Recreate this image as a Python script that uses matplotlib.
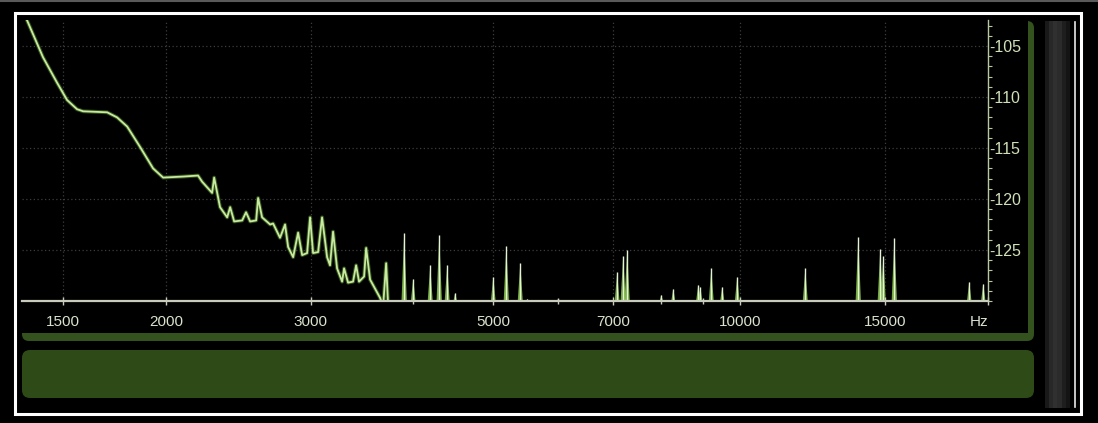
import matplotlib.pyplot as plt
import numpy as np
from matplotlib.patches import FancyBboxPatch, Rectangle
from matplotlib.ticker import MultipleLocator

# spectrum trace (Hz, dB)
CURVE_HZ = [1348, 1418, 1475, 1517, 1560, 1587, 1697, 1745, 1795, 1861,
            1930, 1985, 2099, 2189, 2214, 2277, 2290, 2328, 2375, 2395,
            2422, 2477, 2504, 2533, 2576, 2590, 2619, 2679, 2701, 2754,
            2793, 2817, 2857, 2897, 2930, 2971, 2996, 3021, 3064, 3098,
            3142, 3168, 3195, 3231, 3277, 3295, 3332, 3379, 3408, 3436,
            3485, 3505, 3544, 3645, 3676, 3707, 3728]
CURVE_DB = [-102.0, -106.1, -108.6, -110.3, -111.2, -111.4, -111.5, -112.0, -112.9, -114.9,
            -117.0, -117.9, -117.8, -117.7, -118.3, -119.4, -117.9, -120.8, -121.8, -120.8,
            -122.2, -122.1, -121.3, -122.2, -122.1, -119.9, -121.8, -122.5, -122.4, -123.8,
            -122.5, -124.7, -125.7, -123.3, -125.5, -125.3, -121.8, -125.3, -125.2, -121.8,
            -125.7, -126.5, -123.2, -126.8, -128.1, -126.8, -128.2, -128.1, -126.5, -128.1,
            -127.6, -124.8, -127.9, -129.7, -130.5, -126.3, -130.5]

# isolated peaks above the floor
SPIKE_HZ = [3899, 3999, 4194, 4301, 4398, 4498, 5004, 5190, 5397, 5504,
            6001, 6189, 7079, 7199, 7280, 8010, 8284, 8885, 8935, 9214,
            9502, 9799, 9909, 11990, 13907, 14791, 14916, 15384, 18976, 19737]
SPIKE_DB = [-123.3, -127.8, -126.5, -123.5, -126.5, -129.2, -127.6, -124.6, -126.3, -129.8,
            -129.8, -129.9, -127.2, -125.6, -125.0, -129.4, -128.8, -128.4, -128.6, -126.8,
            -128.6, -129.9, -127.6, -126.8, -123.7, -124.9, -125.6, -123.8, -128.1, -128.3]

X_TICKS = [1500, 2000, 3000, 5000, 7000, 10000, 15000, 20000]
X_TICK_LABELS = ["1500", "2000", "3000", "5000", "7000", "10000", "15000", "Hz"]
X_MINOR = [4000, 6000, 8000, 9000]
Y_TICKS = [-125, -120, -115, -110, -105]
Y_TICK_LABELS = ["-125", "-120", "-115", "-110", "-105"]

W, H = 1098, 423
FONT = ["Liberation Sans Narrow", "Liberation Sans", "DejaVu Sans"]
LINE_COL = "#c8eaa0"
GLOW_COL = "#6fae3a"
AXIS_COL = "#c8ccbc"
LABEL_COL = "#d8e2cc"

fig = plt.figure(figsize=(W / 100, H / 100), dpi=100, facecolor="black")

# background panels drawn in pixel coordinates
bg = fig.add_axes([0, 0, 1, 1])
bg.plot([0, W], [1, 1], color="#5a5a5a", lw=1.5)
bg.add_patch(Rectangle((15, 13), 1066, 401, fill=False, ec="white", lw=2.2))
bg.plot([1075, 1075], [22, 407], color="#e8e8e8", lw=1.2)
bg.imshow(np.array([[0.10, 0.16, 0.19, 0.17, 0.12, 0.08]]), cmap="gray", vmin=0, vmax=1,
          extent=(1045, 1070, 408, 21), aspect="auto")
bg.add_patch(FancyBboxPatch((22, 21), 1012, 320, boxstyle="round,pad=0,rounding_size=7",
                            fc="#34521d", ec="none"))
bg.add_patch(Rectangle((22, 21), 1006, 312, fc="black", ec="none"))
bg.add_patch(FancyBboxPatch((22, 350), 1012, 48, boxstyle="round,pad=0,rounding_size=8",
                            fc="#2e4b17", ec="none"))
bg.set_xlim(0, W)
bg.set_ylim(H, 0)
bg.axis("off")

ax = fig.add_axes([22 / W, 1 - 301 / H, 966 / W, 281 / H])
ax.set_facecolor("none")
ax.set_xscale("log")
ax.set_xlim(1337, 20000)
ax.set_ylim(-130, -102.45)

ax.plot(CURVE_HZ, CURVE_DB, color=GLOW_COL, lw=2.8, alpha=0.45, solid_joinstyle="round")
ax.plot(CURVE_HZ, CURVE_DB, color=LINE_COL, lw=1.3, solid_joinstyle="round")

k = 10 ** 0.0035  # spike half-width in log space
for f, db in zip(SPIKE_HZ, SPIKE_DB):
    ax.fill([f / k, f, f * k], [-130.5, db, -130.5], color="#8cc850", alpha=0.85, lw=0)
ax.vlines(SPIKE_HZ, -130.5, SPIKE_DB, color="#e4f2d6", lw=1.0)

ax.set_xticks(X_TICKS)
ax.set_xticklabels(X_TICK_LABELS)
ax.set_xticks(X_MINOR, minor=True)
ax.xaxis.set_minor_formatter(plt.NullFormatter())
ax.get_xticklabels()[-1].set_horizontalalignment("right")

ax.yaxis.tick_right()
ax.set_yticks(Y_TICKS)
ax.set_yticklabels(Y_TICK_LABELS)
ax.yaxis.set_minor_locator(MultipleLocator(1))

for lab in ax.get_xticklabels() + ax.get_yticklabels():
    lab.set_family(FONT)

ax.tick_params(axis="x", which="major", direction="inout", length=6, width=1,
               color=AXIS_COL, labelcolor=LABEL_COL, labelsize=11, pad=7)
ax.tick_params(axis="x", which="minor", direction="inout", length=5, width=1, color=AXIS_COL)
ax.tick_params(axis="y", which="major", length=0, labelcolor="#cfe0b8", labelsize=11.5, pad=1)
ax.tick_params(axis="y", which="minor", direction="out", length=3, width=0.8, color="#b8c8a0")

ax.grid(True, which="major", color="#3c3c3c", linestyle=(0, (1, 2)), linewidth=0.9)

for side in ["left", "top"]:
    ax.spines[side].set_visible(False)
ax.spines["bottom"].set_color(AXIS_COL)
ax.spines["bottom"].set_linewidth(1.6)
ax.spines["right"].set_color("#b8c8a0")
ax.spines["right"].set_linewidth(1.0)

fig.savefig("out.png", dpi=100, facecolor="black")
